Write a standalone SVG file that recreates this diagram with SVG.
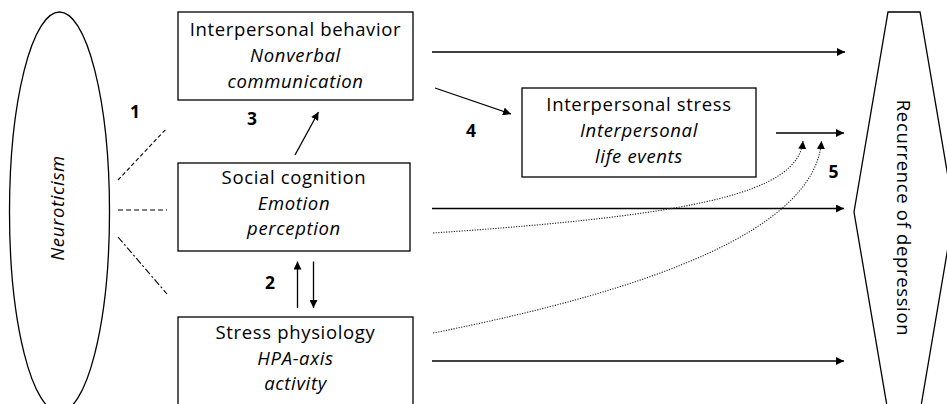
<svg xmlns="http://www.w3.org/2000/svg" width="947" height="404" viewBox="0 0 947 404">
<style>
  .box { fill: #fff; stroke: #000; stroke-width: 1.3; }
  .t { font-family: "Open Sans", "Noto Sans", "DejaVu Sans", sans-serif; font-size: 18.5px; fill: #000; text-anchor: middle; letter-spacing: 0.65px; }
  .i { font-style: italic; }
  .num { font-family: "Open Sans", "Noto Sans", "DejaVu Sans", sans-serif; font-size: 17.5px; font-weight: bold; fill: #000; text-anchor: middle; }
  .arr { fill: none; stroke: #000; stroke-width: 1.3; marker-end: url(#ah); }
  .dot { fill: none; stroke: #222; stroke-width: 1.1; stroke-dasharray: 1.2 1.4; marker-end: url(#ahs); }
  .link { fill: none; stroke: #000; stroke-width: 1.1; }
</style>
<defs>
  <marker id="ah" viewBox="0 0 10 10" refX="10" refY="5" markerWidth="8" markerHeight="8" markerUnits="userSpaceOnUse" orient="auto">
    <path d="M0,0 L10,5 L0,10 Z" fill="#000"/>
  </marker>
  <marker id="ahs" viewBox="0 0 10 10" refX="10" refY="5" markerWidth="8" markerHeight="8" markerUnits="userSpaceOnUse" orient="auto">
    <path d="M0,0 L10,5 L0,10 Z" fill="#000"/>
  </marker>
</defs>
<rect width="947" height="404" fill="#fff"/>

<g id="neuroticism">
  <ellipse cx="59.5" cy="212" rx="50" ry="200" fill="#fff" stroke="#000" stroke-width="1.3"/>
  <text class="t i" transform="translate(64,208) rotate(-90)">Neuroticism</text>
</g>

<g id="recurrence">
  <polygon points="888,12 920,12 954,212 920,412 888,412 854,212" fill="#fff" stroke="#000" stroke-width="1.3"/>
  <text class="t" transform="translate(897,218) rotate(90)">Recurrence of depression</text>
</g>

<g id="interpersonal-behavior">
  <rect class="box" x="178" y="12" width="235" height="88"/>
  <text class="t" x="295.5" y="35.5">Interpersonal behavior</text>
  <text class="t i" x="295.5" y="62">Nonverbal</text>
  <text class="t i" x="295.5" y="88">communication</text>
</g>

<g id="social-cognition">
  <rect class="box" x="178" y="163" width="232" height="88"/>
  <text class="t" x="294" y="183.5">Social cognition</text>
  <text class="t i" x="294" y="209.5">Emotion</text>
  <text class="t i" x="294" y="235">perception</text>
</g>

<g id="stress-physiology">
  <rect class="box" x="178" y="317" width="235" height="100"/>
  <text class="t" x="295.5" y="339">Stress physiology</text>
  <text class="t i" x="295.5" y="364.5">HPA-axis</text>
  <text class="t i" x="295.5" y="390">activity</text>
</g>

<g id="interpersonal-stress">
  <rect class="box" x="522" y="88" width="234" height="89"/>
  <text class="t" x="639" y="110.5">Interpersonal stress</text>
  <text class="t i" x="639" y="137">Interpersonal</text>
  <text class="t i" x="639" y="163">life events</text>
</g>

<g id="connectors">
  <line class="link" x1="118" y1="180" x2="167" y2="128" stroke-dasharray="4 2.5"/>
  <line class="link" x1="118" y1="210" x2="167" y2="210" stroke-dasharray="5 3"/>
  <line class="link" x1="118" y1="237" x2="167" y2="294" stroke-dasharray="7 2.5 2 2.5"/>

  <line class="arr" x1="432" y1="52" x2="845" y2="52"/>
  <line class="arr" x1="295" y1="155" x2="318.5" y2="112"/>
  <line class="arr" x1="435" y1="88" x2="511" y2="114"/>
  <line class="arr" x1="776" y1="133" x2="844" y2="133"/>
  <line class="arr" x1="432" y1="208.5" x2="844" y2="208.5"/>
  <line class="arr" x1="432" y1="361" x2="844" y2="361"/>
  <line class="arr" x1="297.5" y1="308" x2="297.5" y2="261.5"/>
  <line class="arr" x1="313.5" y1="261.5" x2="313.5" y2="308"/>

  <path class="dot" d="M433,233 C700,215 798,192 803,141"/>
  <path class="dot" d="M433,333 C650,290 815,230 821.5,141"/>
</g>

<g id="labels">
  <text class="num" x="135" y="118">1</text>
  <text class="num" x="270" y="289">2</text>
  <text class="num" x="252" y="125">3</text>
  <text class="num" x="471" y="137">4</text>
  <text class="num" x="833.5" y="178">5</text>
</g>
</svg>
